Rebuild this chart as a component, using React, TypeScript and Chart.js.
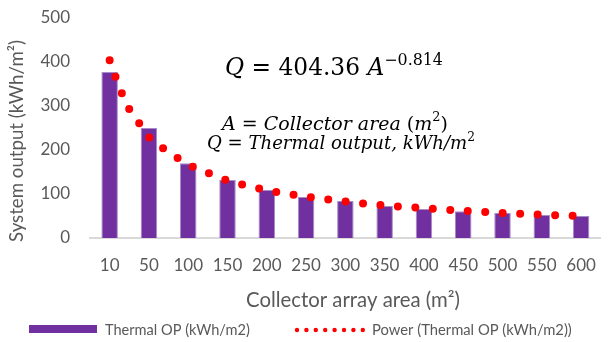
import React, { useEffect, useRef } from 'react';
import { Chart, registerables } from 'chart.js';

Chart.register(...registerables);

// ---- data ----
const categories = ['10', '50', '100', '150', '200', '250', '300', '350', '400', '450', '500', '550', '600'];
const thermalOP = [377, 250, 170, 132, 109, 93, 84, 73, 66, 61, 57, 52, 50];
// trend curve; x is the category position (0 = "10", 12 = "600")
const trendPos = [0, 0.25, 0.5, 0.75, 1, 1.5, 2, 2.5, 3, 4, 5, 6, 7, 8, 9, 10, 11, 12];
const trendVal = [404, 342, 293, 261, 229, 196, 167, 148, 131, 109, 94, 83, 74, 68, 62, 57, 53, 50];
const yMin = 0;
const yMax = 500;
const yStep = 100;
const barLabel = 'Thermal OP (kWh/m2)';
const trendLabel = 'Power (Thermal OP (kWh/m2))';
const xTitle = 'Collector array area (m\u00B2)';
const yTitle = 'System output (kWh/m\u00B2)';

const GREY = '#595959';
const PURPLE = '#7030A0';
const RED = '#FF0000';
const SANS = 'Lato';
const SERIF = 'DejaVu Serif';

type Seg = { t: string; i?: boolean; sup?: boolean };

function fitFont(ctx: CanvasRenderingContext2D, text: string, target: number, family: string, style = '') {
  const base = 20;
  ctx.font = `${style} ${base}px ${family}`;
  const w = ctx.measureText(text).width;
  const size = (base * target) / w;
  ctx.font = `${style} ${size}px ${family}`;
}

function drawSegs(ctx: CanvasRenderingContext2D, segs: Seg[], x: number, baseline: number, target: number, family: string) {
  const measure = (s: Seg, size: number) => {
    ctx.font = `${s.i ? 'italic ' : ''}${s.sup ? size * 0.68 : size}px ${family}`;
    return ctx.measureText(s.t).width;
  };
  const base = 20;
  let w = 0;
  segs.forEach((s) => (w += measure(s, base)));
  const size = (base * target) / w;
  let cx = x;
  ctx.textAlign = 'left';
  ctx.textBaseline = 'alphabetic';
  segs.forEach((s) => {
    const sw = measure(s, size);
    ctx.fillText(s.t, cx, baseline - (s.sup ? size * 0.45 : 0));
    cx += sw;
  });
}

const overlayPlugin = {
  id: 'overlay',
  afterDraw(chart: any) {
    const ctx: CanvasRenderingContext2D = chart.ctx;
    ctx.save();
    // y axis title
    ctx.fillStyle = GREY;
    ctx.save();
    ctx.translate(17, 141);
    ctx.rotate(-Math.PI / 2);
    ctx.textAlign = 'center';
    ctx.textBaseline = 'middle';
    fitFont(ctx, yTitle, 202, SANS);
    ctx.fillText(yTitle, 0, 0);
    ctx.restore();

    // x axis title
    ctx.textAlign = 'center';
    ctx.textBaseline = 'middle';
    fitFont(ctx, xTitle, 214, SANS);
    ctx.fillText(xTitle, 353, 300);

    // legend
    ctx.fillStyle = PURPLE;
    ctx.fillRect(29, 325, 68, 8);
    ctx.fillStyle = RED;
    for (let k = 0; k < 8; k++) {
      ctx.beginPath();
      ctx.arc(297 + k * 9.4, 330, 2.2, 0, Math.PI * 2);
      ctx.fill();
    }
    ctx.fillStyle = GREY;
    ctx.textAlign = 'left';
    ctx.textBaseline = 'middle';
    fitFont(ctx, barLabel, 145, SANS);
    ctx.fillText(barLabel, 105, 330);
    fitFont(ctx, trendLabel, 200, SANS);
    ctx.fillText(trendLabel, 372, 330);

    // equation annotations
    ctx.fillStyle = '#000000';
    drawSegs(ctx, [{ t: 'Q', i: true }, { t: ' = 404.36 ' }, { t: 'A', i: true }, { t: '\u22120.814', sup: true }], 225, 75, 218, SERIF);
    drawSegs(
      ctx,
      [{ t: 'A', i: true }, { t: ' = ' }, { t: 'Collector area ', i: true }, { t: '(' }, { t: 'm', i: true }, { t: '2', sup: true }, { t: ')' }],
      222,
      130,
      226,
      SERIF
    );
    drawSegs(ctx, [{ t: 'Q', i: true }, { t: ' = ' }, { t: 'Thermal output, kWh/m', i: true }, { t: '2', sup: true }], 207, 149, 268, SERIF);
    ctx.restore();
  },
};

export default function App() {
  const ref = useRef<HTMLCanvasElement | null>(null);
  useEffect(() => {
    if (!ref.current) return;
    const chart = new Chart(ref.current, {
      type: 'bar',
      data: {
        datasets: [
          {
            type: 'line',
            label: trendLabel,
            data: trendPos.map((p, k) => ({ x: p, y: trendVal[k] })),
            borderColor: RED,
            backgroundColor: RED,
            borderWidth: 8,
            borderDash: [0, 17.5],
            borderCapStyle: 'round',
            pointRadius: 0,
            fill: false,
            cubicInterpolationMode: 'monotone',
            order: 0,
          } as any,
          {
            type: 'bar',
            label: barLabel,
            data: thermalOP.map((v, k) => ({ x: k, y: v })),
            backgroundColor: PURPLE,
            borderColor: '#a68bc6',
            borderWidth: 1,
            barPercentage: 0.42,
            categoryPercentage: 1,
            order: 1,
          } as any,
        ],
      },
      options: {
        animation: false,
        responsive: false,
        maintainAspectRatio: false,
        layout: { padding: { top: 18, right: 3, bottom: 0, left: 0 } },
        plugins: { legend: { display: false }, tooltip: { enabled: false } },
        scales: {
          x: {
            type: 'linear',
            min: -0.5,
            max: categories.length - 0.5,
            offset: false,
            grid: { display: false, drawTicks: false, offset: false },
            border: { display: true, color: '#d9d9d9', width: 2 },
            afterBuildTicks: (s: any) => {
              s.ticks = categories.map((_, k) => ({ value: k }));
            },
            ticks: {
              color: GREY,
              font: { family: SANS, size: 17 },
              padding: 17,
              maxRotation: 0,
              autoSkip: false,
              callback: (v: any) => categories[v] ?? '',
            },
            afterFit: (s: any) => {
              s.height = 104;
            },
          },
          y: {
            min: yMin,
            max: yMax,
            grid: { display: false, drawTicks: true, tickLength: 18 },
            border: { display: false },
            ticks: { stepSize: yStep, color: GREY, font: { family: SANS, size: 17 }, padding: 2 },
            afterFit: (s: any) => {
              s.width = 90;
            },
          },
        },
      } as any,
      plugins: [overlayPlugin],
    });
    return () => chart.destroy();
  }, []);
  return (
    <div style={{ position: 'absolute', left: 0, top: 0, width: 613, height: 342, background: '#fff' }}>
      <canvas ref={ref} width={613} height={342} />
    </div>
  );
}
